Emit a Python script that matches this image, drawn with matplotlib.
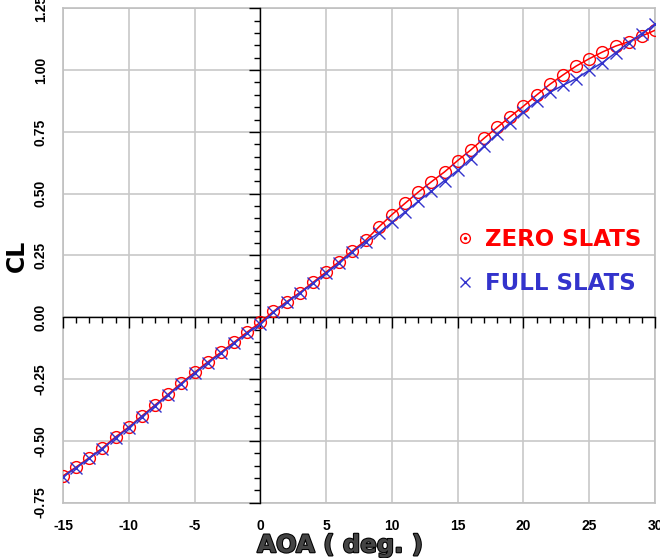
import numpy as np
import matplotlib
matplotlib.use("Agg")
import matplotlib.pyplot as plt
from matplotlib.lines import Line2D
import matplotlib.patheffects as pe
from matplotlib.ticker import MultipleLocator

plt.rcParams['font.family'] = ['Liberation Sans', 'DejaVu Sans']

aoa = list(range(-15, 31))
cl_zero = [-0.642, -0.606, -0.568, -0.529, -0.484, -0.444, -0.399, -0.355, -0.311, -0.266,
           -0.223, -0.181, -0.142, -0.101, -0.060, -0.021,
           0.024, 0.063, 0.100, 0.141, 0.183, 0.225, 0.269, 0.311, 0.365, 0.415,
           0.461, 0.506, 0.548, 0.588, 0.634, 0.677, 0.724, 0.768, 0.812, 0.854,
           0.899, 0.942, 0.980, 1.016, 1.046, 1.073, 1.097, 1.115, 1.138, 1.161]
cl_full = [-0.646, -0.609, -0.571, -0.532, -0.488, -0.447, -0.402, -0.358, -0.314, -0.270,
           -0.227, -0.185, -0.146, -0.105, -0.065, -0.028,
           0.020, 0.060, 0.097, 0.137, 0.178, 0.220, 0.264, 0.305, 0.341, 0.384,
           0.426, 0.469, 0.510, 0.553, 0.594, 0.642, 0.692, 0.742, 0.787, 0.831,
           0.873, 0.910, 0.938, 0.965, 0.999, 1.030, 1.070, 1.111, 1.148, 1.185]
xticks = [-15, -10, -5, 0, 5, 10, 15, 20, 25, 30]
yticks = [-0.75, -0.50, -0.25, 0.00, 0.25, 0.50, 0.75, 1.00, 1.25]
series_names = ["ZERO SLATS", "FULL SLATS"]

RED = '#ff0000'
BLUE = '#3333cc'

fig = plt.figure(figsize=(6.6, 5.58), dpi=100)
pos = [63/660, 1 - 502.6/558, (655-63)/660, (502.6-8.3)/558]
ax = fig.add_axes(pos)
ax.set_xlim(-15, 30)
ax.set_ylim(-0.75, 1.25)

ax.set_xticks(xticks)
ax.set_yticks(yticks)
ax.set_xticklabels([f"{t}" for t in xticks], fontsize=10, fontweight='bold')
ax.set_yticklabels([f"{t:.2f}" for t in yticks], fontsize=10, fontweight='bold',
                   rotation=90, va='center')
ax.tick_params(axis='x', length=0, pad=12)
ax.tick_params(axis='y', length=0, pad=11)
ax.grid(True, color='#c8c8c8', linewidth=1.2)
ax.set_axisbelow(True)
for s in ax.spines.values():
    s.set_color('#c0c0c0')
    s.set_linewidth(1.2)

# zero axes with tick marks
ax2 = fig.add_axes(pos, facecolor='none')
ax2.set_xlim(-15, 30)
ax2.set_ylim(-0.75, 1.25)
for k in ['top', 'right']:
    ax2.spines[k].set_visible(False)
ax2.spines['left'].set_position(('data', 0))
ax2.spines['bottom'].set_position(('data', 0))
ax2.spines['left'].set_color('black')
ax2.spines['bottom'].set_color('black')
ax2.spines['left'].set_linewidth(1.0)
ax2.spines['bottom'].set_linewidth(1.0)
ax2.xaxis.set_major_locator(MultipleLocator(5))
ax2.xaxis.set_minor_locator(MultipleLocator(1))
ax2.yaxis.set_major_locator(MultipleLocator(0.25))
ax2.yaxis.set_minor_locator(MultipleLocator(0.05))
ax2.tick_params(which='major', direction='out', length=8, width=1, color='black',
                labelbottom=False, labelleft=False)
ax2.tick_params(which='minor', direction='out', length=4, width=1, color='black')

# data
ax2.plot(aoa, cl_zero, color=RED, linewidth=1.1, zorder=3)
ax2.plot(aoa, cl_zero, linestyle='none', marker='o', markersize=8.5, markerfacecolor='none',
         markeredgecolor=RED, markeredgewidth=1.0, zorder=4)
ax2.plot(aoa, cl_full, color=BLUE, linewidth=1.1, zorder=5)
ax2.plot(aoa, cl_full, linestyle='none', marker='x', markersize=8, color=BLUE,
         markeredgewidth=1.0, zorder=6)

h_circ = Line2D([], [], linestyle='none', marker='o', markersize=7, markerfacecolor='none',
                markeredgecolor=RED, markeredgewidth=1.0)
h_dot = Line2D([], [], linestyle='none', marker='.', markersize=3, color=RED)
h_x = Line2D([], [], linestyle='none', marker='x', markersize=7, color=BLUE,
             markeredgewidth=1.0)
leg = ax2.legend([(h_circ, h_dot), h_x], series_names, frameon=False,
                 loc='center left', bbox_to_anchor=(0.633, 0.488),
                 prop={'family': 'DejaVu Sans', 'weight': 'bold', 'size': 16.5},
                 handlelength=0.6, handletextpad=0.57, labelspacing=0.9)
for t, c in zip(leg.get_texts(), [RED, BLUE]):
    t.set_color(c)

ax.set_xlabel("AOA ( deg. )", fontsize=17.5, fontweight='bold', color='#444444',
              family='DejaVu Sans',
              path_effects=[pe.withStroke(linewidth=1.5, foreground='black')])
ax.xaxis.set_label_coords(0.468, -0.062)
ax.set_ylabel("CL", fontsize=17, fontweight='bold', family='DejaVu Sans')
ax.yaxis.set_label_coords(-0.057, 0.5)

fig.savefig("out.png", dpi=100)
